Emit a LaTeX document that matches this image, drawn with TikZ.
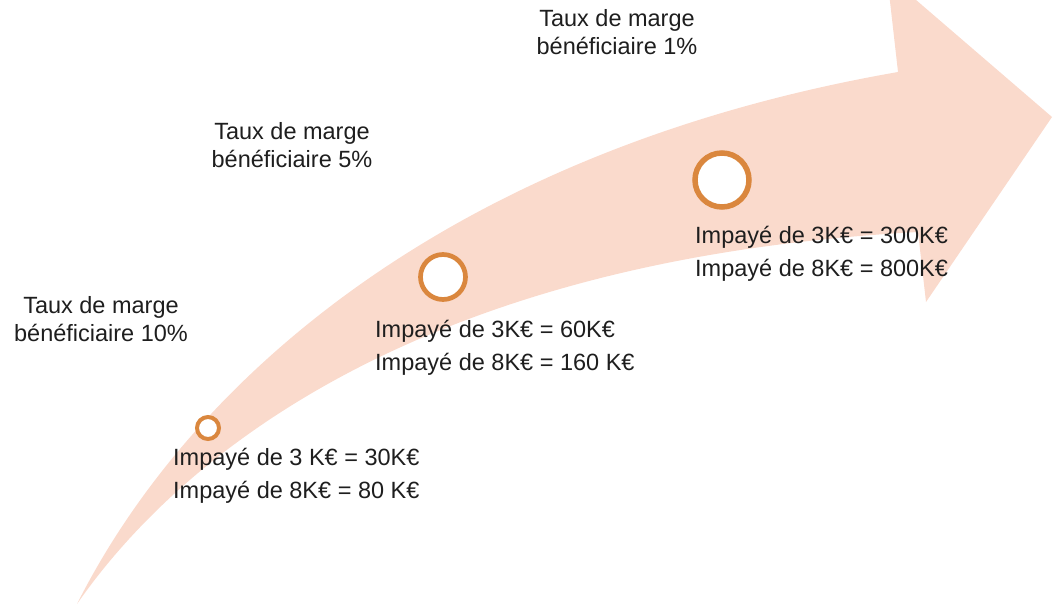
\documentclass[tikz,border=0pt]{standalone}
\usepackage{fontspec}
\setmainfont{Liberation Sans}
\usepackage{tikz}
\definecolor{bandpink}{RGB}{250,218,204}
\definecolor{ringorange}{RGB}{218,135,62}
\definecolor{txtgray}{RGB}{30,30,30}

\begin{document}
\begin{tikzpicture}[x=1pt,y=-1pt,
  ring/.style={circle,draw=ringorange,fill=white,inner sep=0pt},
  marge/.style={align=center,anchor=north,inner sep=0pt,text=txtgray,font=\fontsize{23.5}{28}\selectfont},
  impaye/.style={align=left,anchor=north west,inner sep=0pt,text=txtgray,font=\fontsize{23.5}{33}\selectfont}]
\useasboundingbox (0,0) rectangle (1057,604);
\clip (0,0) rectangle (1057,604);
% curved arrow
\fill[bandpink] (77,604) .. controls (190,380) and (450,150) .. (898,72)
  -- (887,-25) -- (1052,117) -- (926,302) -- (918,232)
  .. controls (400,260) and (170,470) .. (77,604) -- cycle;
% steps
\draw node[ring,line width=4pt,minimum size=22pt] (r10) at (208,428) {};
\draw node[ring,line width=4.7pt,minimum size=45pt] (r5) at (443,277) {};
\draw node[ring,line width=5.5pt,minimum size=54pt] (r1) at (722,180) {};
\draw node[marge] (m10) at (101,296) {Taux de marge\\bénéficiaire 10\%};
\draw node[marge] (m5) at (292,122) {Taux de marge\\bénéficiaire 5\%};
\draw node[marge] (m1) at (617,9) {Taux de marge\\bénéficiaire 1\%};
\draw node[impaye] (i10) at (173,448) {Impayé de 3 K€ = 30K€\\Impayé de 8K€ = 80 K€};
\draw node[impaye] (i5) at (375,320) {Impayé de 3K€ = 60K€\\Impayé de 8K€ = 160 K€};
\draw node[impaye] (i1) at (695,226) {Impayé de 3K€ = 300K€\\Impayé de 8K€ = 800K€};
\end{tikzpicture}
\end{document}
